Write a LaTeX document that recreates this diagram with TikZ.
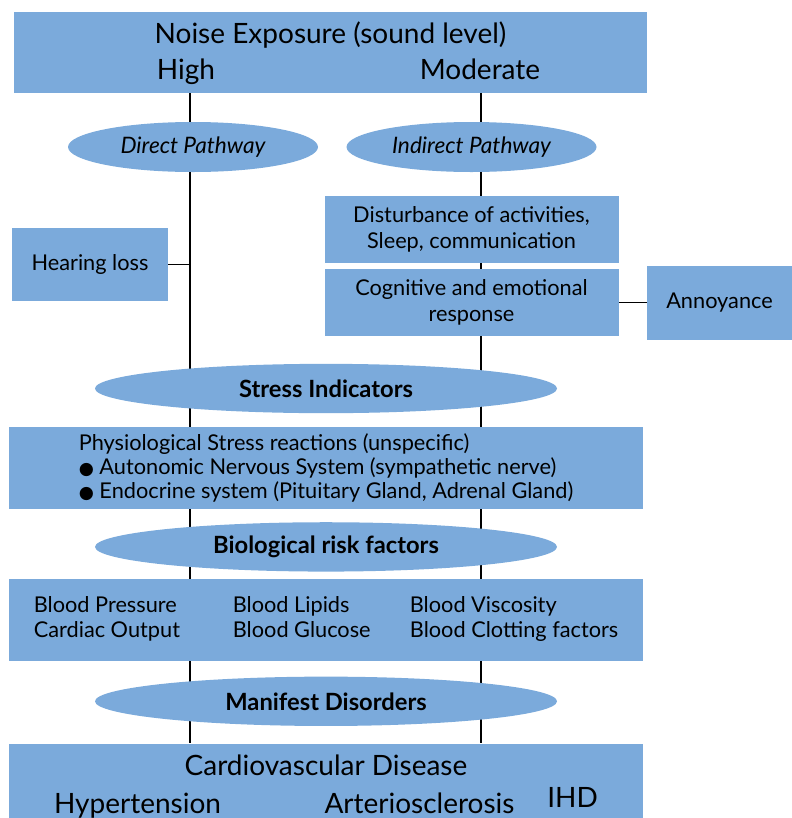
\documentclass[tikz,border=0pt]{standalone}
\usepackage{fontspec}
\setmainfont{Lato}
\newfontfamily\dotfont{DejaVu Sans}
\usetikzlibrary{shapes.geometric, positioning, backgrounds}
\definecolor{myblue}{RGB}{123, 170, 219}
\newcommand{\bulletdot}{{\dotfont\fontsize{13pt}{13pt}\selectfont ●}}

\begin{document}
\begin{tikzpicture}[
    x=0.75pt, y=-0.75pt,
    box/.style={rectangle, fill=myblue, inner sep=0pt, text centered, align=center, font=\fontsize{16.3pt}{19.5pt}\selectfont},
    wide/.style={box, minimum width=475.5pt, minimum height=61.5pt},
    pathway/.style={ellipse, fill=myblue, inner sep=0pt, minimum width=187.5pt, minimum height=37.5pt, font=\fontsize{17pt}{19pt}\selectfont\itshape},
    oval/.style={ellipse, fill=myblue, inner sep=0pt, minimum width=346.5pt, minimum height=37pt, font=\fontsize{17.8pt}{19pt}\selectfont\bfseries},
    link/.style={draw=black, line width=0.9pt}
]
\useasboundingbox (0,0) rectangle (792,818);

% Exposure
\node[box, minimum width=474.75pt, minimum height=60.75pt, font=\fontsize{21pt}{27pt}\selectfont] (noise) at (330.5,52.5)
    {\rule{0pt}{17pt}Noise Exposure (sound level)\\\makebox[474.75pt][l]{\hspace*{129pt}\makebox[0pt]{High}\hspace*{220.5pt}\makebox[0pt]{Moderate}}};

% Pathways
\node[pathway] (direct) at (193,147) {Direct Pathway};
\node[pathway] (indirect) at (471.5,147) {Indirect Pathway};

% Indirect branch
\node[box, minimum width=220.5pt, minimum height=50.25pt, below=17.25pt of indirect] (disturb) {Disturbance of activities,\\Sleep, communication};
\node[box, minimum width=220.5pt, minimum height=50.25pt, below=4.5pt of disturb] (cognitive) {Cognitive and emotional\\response};
\node[box, minimum width=108.75pt, minimum height=55.5pt, right=21pt of cognitive] (annoy) {Annoyance};

% Direct branch
\node[box, minimum width=117pt, minimum height=54.75pt] (hearing) at (90,264.5) {Hearing loss};

% Stress chain
\node[oval] (stress) at (326,388.5) {Stress Indicators};
\node[wide, align=left, font=\fontsize{16.3pt}{18pt}\selectfont, below=9.75pt of stress] (physio)
    {Physiological Stress reactions (unspecific)\\\bulletdot{} Autonomic Nervous System (sympathetic nerve)\\\bulletdot{} Endocrine system (Pituitary Gland, Adrenal Gland)};
\node[oval, below=9.75pt of physio] (bio) {Biological risk factors};
\node[wide, font=\fontsize{16.3pt}{18.75pt}\selectfont, below=5.25pt of bio] (blood)
    {\begin{tabular}{@{}p{149.25pt}@{}p{132.75pt}@{}l@{}}
     Blood Pressure & Blood Lipids & Blood Viscosity\\
     Cardiac Output & Blood Glucose & Blood Clotting factors
     \end{tabular}};
\node[oval, below=11.25pt of blood] (manifest) {Manifest Disorders};
\node[wide, minimum height=57.75pt, font=\fontsize{21pt}{28.5pt}\selectfont, below=12.75pt of manifest] (cvd)
    {\rule{0pt}{22pt}Cardiovascular Disease\\\makebox[475.5pt][l]{\hspace*{96.4pt}\makebox[0pt]{Hypertension}\hspace*{211.5pt}\makebox[0pt]{Arteriosclerosis}\hspace*{114.75pt}\makebox[0pt]{\raisebox{4pt}{IHD}}}};

% Lines
\coordinate (high) at (190,0);
\coordinate (moderate) at (481,0);
\begin{scope}[on background layer]
\draw[link] (noise.south -| high) -- (cvd.north -| high);
\draw[link] (noise.south -| moderate) -- (cvd.north -| moderate);
\end{scope}
\draw[link] (hearing.east) -- (hearing.east -| high);
\draw[link] (cognitive.east) -- (annoy.west);

\end{tikzpicture}
\end{document}
